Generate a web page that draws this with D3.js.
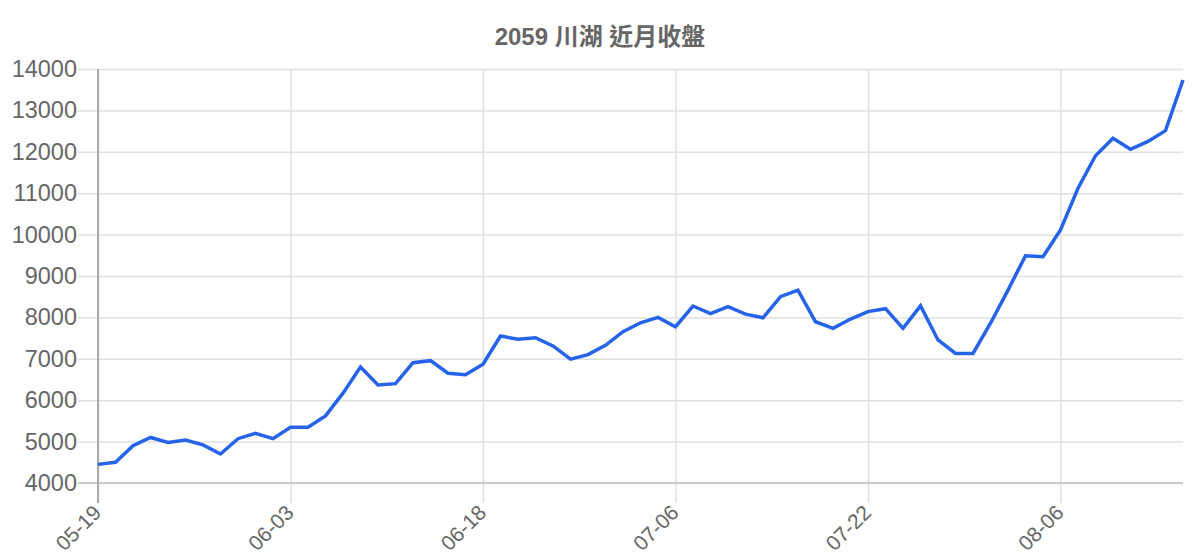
<!DOCTYPE html>
<html>
<head>
<meta charset="utf-8">
<script src="https://cdn.jsdelivr.net/npm/d3@7"></script>
<style>
  body { margin: 0; background: #fff; }
  text { font-family: "Liberation Sans", Arial, "Noto Sans CJK TC", sans-serif; }
</style>
</head>
<body>
<div id="chart"></div>
<script>
'use strict'

const title = '2059 川湖 近月收盤';

const dates = [
    '05-19','05-20','05-21','05-22','05-23','05-26','05-27','05-28','05-29','05-30','06-02',
    '06-03','06-04','06-05','06-06','06-09','06-10','06-11','06-12','06-13','06-16','06-17',
    '06-18','06-19','06-20','06-23','06-24','06-25','06-26','06-27','07-01','07-02','07-03',
    '07-06','07-07','07-08','07-09','07-10','07-13','07-14','07-15','07-16','07-17','07-21',
    '07-22','07-23','07-24','07-27','07-28','07-29','07-30','07-31','08-03','08-04','08-05',
    '08-06','08-07','08-10','08-11','08-12','08-13','08-14','08-17'
];

const closes = [
    4450, 4500, 4900, 5100, 4980, 5040, 4920, 4700, 5070, 5200, 5070,
    5345, 5345, 5620, 6170, 6800, 6370, 6400, 6905, 6955, 6650, 6615,
    6870, 7550, 7470, 7510, 7310, 6990, 7100, 7325, 7655, 7870, 8000,
    7775, 8275, 8090, 8260, 8080, 7990, 8500, 8660, 7895, 7735, 7960,
    8140, 8210, 7735, 8280, 7455, 7130, 7130, 7860, 8660, 9490, 9465,
    10110, 11120, 11905, 12325, 12060, 12250, 12510, 13735
];

const tickLabels = ['05-19', '06-03', '06-18', '07-06', '07-22', '08-06'];
const yTicks = [4000, 5000, 6000, 7000, 8000, 9000, 10000, 11000, 12000, 13000, 14000];

var width = 1200;
var height = 560;
var margin = { top: 69, right: 17, bottom: 77, left: 98 };

var svg = d3.select('#chart')
    .append('svg')
    .attr('width', width)
    .attr('height', height);

var x = d3.scalePoint()
    .domain(dates)
    .range([margin.left, width - margin.right]);

var y = d3.scaleLinear()
    .domain([4000, 14000])
    .range([height - margin.bottom, margin.top]);

// horizontal grid + y labels
svg.append('g')
    .attr('transform', 'translate(' + margin.left + ',0)')
    .call(d3.axisLeft(y)
        .tickValues(yTicks)
        .tickSize(-(width - margin.left - margin.right))
        .tickFormat(d3.format('d')))
    .call(g => g.select('.domain').remove())
    .call(g => g.selectAll('.tick line')
        .attr('x1', -20)
        .attr('stroke', '#e0e0e0')
        .attr('stroke-width', 1.5))
    .call(g => g.selectAll('.tick text')
        .attr('x', -21)
        .attr('fill', '#666')
        .style('font-size', '23.5px'));

// vertical grid + x labels
var xAxis = svg.append('g')
    .attr('transform', 'translate(0,' + (height - margin.bottom) + ')')
    .call(d3.axisBottom(x)
        .tickValues(tickLabels)
        .tickSize(20)
        .tickSizeOuter(0));

xAxis.select('.domain').remove();
xAxis.selectAll('.tick line')
    .attr('y1', -(height - margin.top - margin.bottom))
    .attr('stroke', '#e0e0e0')
    .attr('stroke-width', 1.5);
xAxis.selectAll('.tick text')
    .attr('fill', '#666')
    .style('font-size', '21px')
    .attr('text-anchor', 'end')
    .attr('x', 0)
    .attr('y', 0)
    .attr('dy', 0)
    .attr('transform', 'translate(4,31) rotate(-45)');

// axis lines
svg.append('line')
    .attr('x1', margin.left - 20)
    .attr('x2', width - margin.right)
    .attr('y1', y(4000))
    .attr('y2', y(4000))
    .attr('stroke', '#cccccc')
    .attr('stroke-width', 2);

svg.append('line')
    .attr('x1', margin.left)
    .attr('x2', margin.left)
    .attr('y1', margin.top)
    .attr('y2', height - margin.bottom + 20)
    .attr('stroke', '#aaaaaa')
    .attr('stroke-width', 2);

var line = d3.line()
    .x((d, i) => x(dates[i]))
    .y(d => y(d));

svg.append('path')
    .datum(closes)
    .attr('fill', 'none')
    .attr('stroke', '#2563eb')
    .attr('stroke-width', 3.5)
    .attr('stroke-linejoin', 'miter')
    .attr('d', line);

svg.append('text')
    .attr('x', 600)
    .attr('y', 45)
    .attr('text-anchor', 'middle')
    .attr('fill', '#666')
    .style('font-size', '24px')
    .style('font-weight', 'bold')
    .text(title);
</script>
</body>
</html>
